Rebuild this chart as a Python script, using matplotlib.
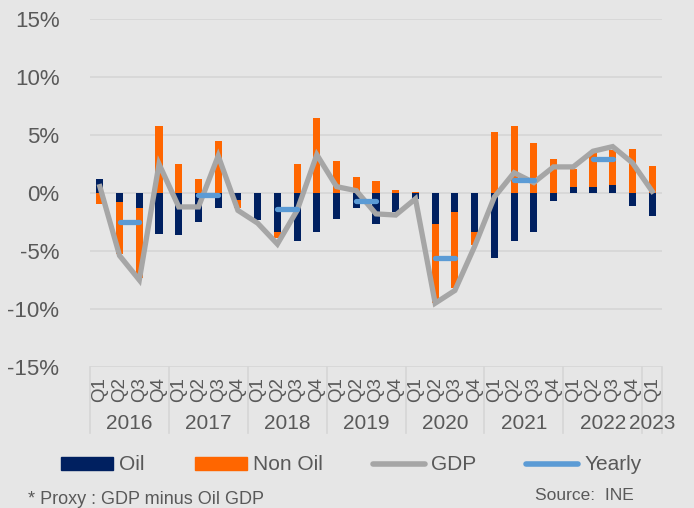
import matplotlib.pyplot as plt
import matplotlib.transforms as mtransforms
from matplotlib.patches import Patch
from matplotlib.lines import Line2D
import numpy as np

plt.rcParams['font.family'] = ['Liberation Sans', 'DejaVu Sans']

years = ['2016', '2017', '2018', '2019', '2020', '2021', '2022', '2023']
quarters = ['Q1', 'Q2', 'Q3', 'Q4'] * 7 + ['Q1']

oil = [1.25, -0.8, -1.3, -3.5,
       -3.6, -2.5, -1.3, -0.6,
       -2.3, -3.4, -4.1, -3.4,
       -2.2, -1.3, -2.65, -1.6,
       -0.5, -2.7, -1.6, -3.4,
       -5.6, -4.1, -3.4, -0.65,
       0.55, 0.55, 0.7, -1.15,
       -2.0]
non_oil = [-0.95, -4.5, -6.0, 5.8,
           2.5, 1.25, 4.5, -0.7,
           0.0, -0.45, 2.5, 6.5,
           2.8, 1.4, 1.05, 0.25,
           0.1, -6.8, -6.6, -1.1,
           5.3, 5.8, 4.3, 2.95,
           1.5, 2.9, 3.05, 3.8,
           2.3]
gdp = [0.55, -5.4, -7.5, 2.5,
       -1.2, -1.2, 3.2, -1.5,
       -2.6, -4.4, -1.5, 3.3,
       0.55, 0.2, -1.8, -1.9,
       -0.5, -9.5, -8.4, -4.6,
       -0.35, 1.75, 0.9, 2.25,
       2.25, 3.6, 4.0, 2.6,
       0.15]
yearly = [-2.5, -0.15, -1.35, -0.65, -5.6, 1.15, 2.9]

bg = '#E6E6E6'
txt = '#595959'
navy = '#002060'
orange = '#FF6600'
grey = '#A6A6A6'
blue = '#5B9BD5'

fig = plt.figure(figsize=(6.94, 5.08), dpi=100, facecolor=bg)
ax = fig.add_axes([90 / 694, 1 - 367 / 508, 572 / 694, 348 / 508])
ax.set_facecolor(bg)

x = np.arange(len(quarters))
oil = np.array(oil)
non_oil = np.array(non_oil)
# stack like excel: positives up from zero, negatives down from zero
bottom_non = np.where(np.sign(oil) == np.sign(non_oil), oil, 0)
ax.bar(x, oil, width=0.36, color=navy, zorder=2)
ax.bar(x, non_oil, width=0.36, bottom=bottom_non, color=orange, zorder=2)
ax.plot(x, gdp, color=grey, lw=3.8, zorder=3, solid_joinstyle='miter')

yearly_line = np.full(len(quarters), np.nan)
for i, v in enumerate(yearly):
    yearly_line[i * 4 + 1] = v
    yearly_line[i * 4 + 2] = v
ax.plot(x, yearly_line, color=blue, lw=3.8, solid_capstyle='round', zorder=4)

ax.set_xlim(-0.5, len(quarters) - 0.5)
ax.set_ylim(-15, 15)
ax.set_yticks([-15, -10, -5, 0, 5, 10, 15])
ax.set_yticklabels(['-15%', '-10%', '-5%', '0%', '5%', '10%', '15%'])
ax.tick_params(axis='y', length=0, pad=22, labelsize=16, labelcolor=txt)
ax.grid(axis='y', color='#D6D6D6', lw=1.2, zorder=0)
ax.set_xticks([])
for s in ax.spines.values():
    s.set_visible(False)

trans = mtransforms.blended_transform_factory(ax.transData, ax.transAxes)
for i, q in enumerate(quarters):
    ax.text(i, -0.03, q, rotation=90, ha='center', va='top', fontsize=13.5,
            color=txt, transform=trans)
seps = [-0.5 + 4 * k for k in range(8)] + [len(quarters) - 0.5]
for s in seps:
    ax.plot([s, s], [0, -0.19], color='#D6D6D6', lw=1.2, transform=trans,
            clip_on=False)
for k, yr in enumerate(years):
    lo = seps[k]
    hi = seps[k + 1]
    ax.text((lo + hi) / 2, -0.161, yr, ha='center', va='center', fontsize=15,
            color=txt, transform=trans)

handles = [Patch(color=navy), Patch(color=orange),
           Line2D([], [], color=grey, lw=4, solid_capstyle='round'),
           Line2D([], [], color=blue, lw=4, solid_capstyle='round')]
fig.legend(handles, ['Oil', 'Non Oil', 'GDP', 'Yearly'], ncol=4,
           loc='center left', bbox_to_anchor=(42 / 694, 1 - 465 / 508),
           frameon=False, fontsize=15, labelcolor=txt, handlelength=2.5,
           handleheight=0.6, handletextpad=0.3, columnspacing=2.4)

fig.text(28 / 694, 1 - 499 / 508, '* Proxy : GDP minus Oil GDP', fontsize=13,
         color=txt, va='center')
fig.text(535 / 694, 1 - 496 / 508, 'Source:  INE', fontsize=12.5, color=txt,
         va='center')

fig.savefig('out.png', dpi=100, facecolor=bg)
